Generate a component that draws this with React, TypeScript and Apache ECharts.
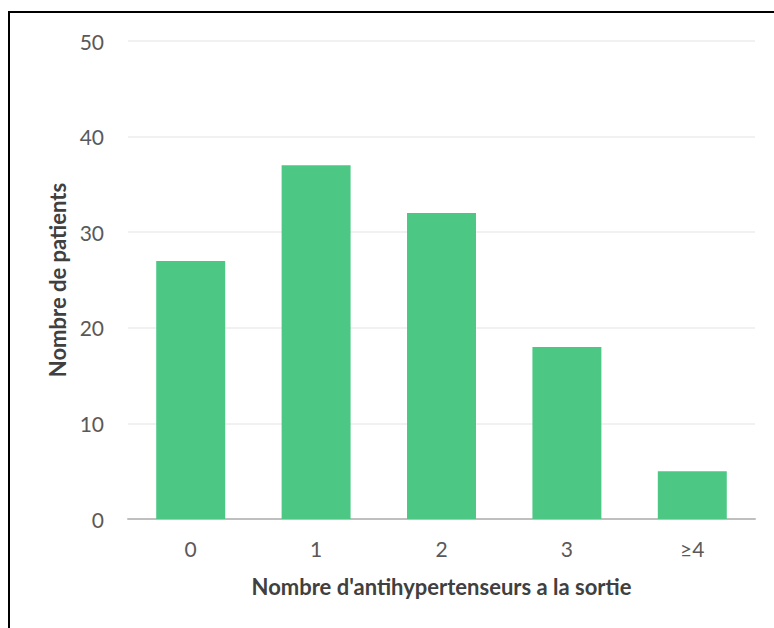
import React, { useEffect, useRef } from "react";
import * as echarts from "echarts";

const categories = ["0", "1", "2", "3", "≥4"];
const patients = [27, 37, 32, 18, 5];
const yTicks = { min: 0, max: 50, interval: 10 };

export default function App() {
  const ref = useRef<HTMLDivElement>(null);
  useEffect(() => {
    if (!ref.current) return;
    const chart = echarts.init(ref.current, null, { renderer: "svg" });
    chart.setOption({
      animation: false,
      backgroundColor: "#ffffff",
      textStyle: { fontFamily: "Lato" },
      graphic: [
        {
          type: "rect",
          shape: { x: 9, y: 12, width: 800, height: 700 },
          style: { fill: "none", stroke: "#000", lineWidth: 2 },
          silent: true,
        },
      ],
      grid: { left: 128, right: 19, top: 41, bottom: 109 },
      xAxis: {
        type: "category",
        data: categories,
        name: "Nombre d'antihypertenseurs a la sortie",
        nameLocation: "middle",
        nameGap: 56,
        nameTextStyle: { fontFamily: "Lato", fontWeight: "bold", fontSize: 22, color: "#404040" },
        axisLine: { lineStyle: { color: "#bfbfbf", width: 2 } },
        axisTick: { show: false },
        axisLabel: { fontFamily: "Lato", fontSize: 21, color: "#595959", margin: 19 },
      },
      yAxis: {
        type: "value",
        min: yTicks.min,
        max: yTicks.max,
        interval: yTicks.interval,
        name: "Nombre de patients",
        nameLocation: "middle",
        nameGap: 57,
        nameTextStyle: { fontFamily: "Lato", fontWeight: "bold", fontSize: 22, color: "#404040" },
        axisLine: { show: false },
        axisTick: { show: false },
        splitLine: { lineStyle: { color: "#ededed", width: 1.5 } },
        axisLabel: { fontFamily: "Lato", fontSize: 21, color: "#595959", margin: 24 },
      },
      series: [
        {
          type: "bar",
          data: patients,
          barWidth: "55%",
          itemStyle: { color: "#4cc884" },
        },
      ],
    });
    return () => chart.dispose();
  }, []);
  return (
    <div
      ref={ref}
      style={{ position: "absolute", left: 0, top: 0, width: 774, height: 628 }}
    />
  );
}
